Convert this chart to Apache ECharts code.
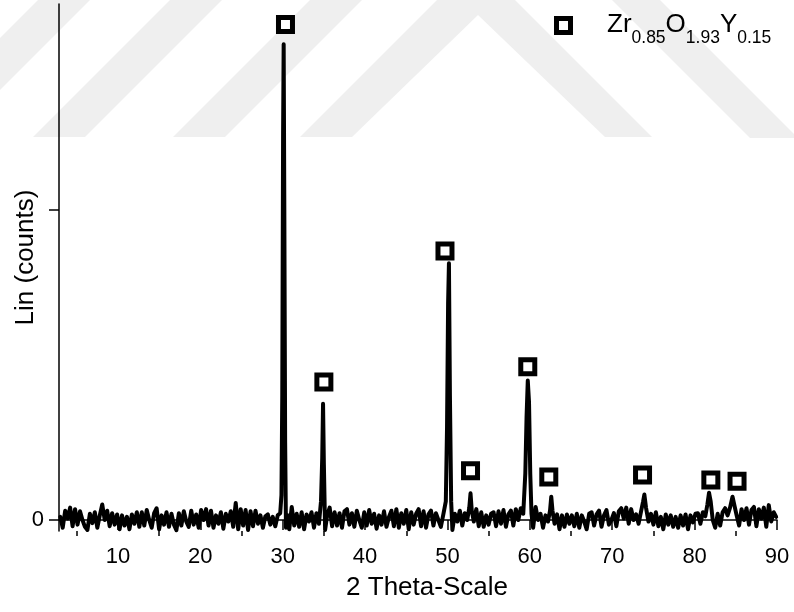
<!DOCTYPE html>
<html>
<head>
<meta charset="utf-8">
<script src="https://cdn.jsdelivr.net/npm/echarts@6.0.0/dist/echarts.min.js"></script>
<style>
html,body{margin:0;padding:0;background:#fff;}
#chart{width:794px;height:612px;}
</style>
</head>
<body>
<div id="chart"></div>
<script>
// 2θ positions of the scan
const twoTheta = [
3.0,3.3,3.6,3.9,4.2,4.5,4.8,5.1,5.4,5.7,
6.0,6.3,6.6,6.9,7.2,7.5,7.8,8.1,8.4,8.7,
9.0,9.3,9.6,9.9,10.2,10.5,10.8,11.1,11.4,11.7,
12.0,12.3,12.6,12.9,13.2,13.5,13.8,14.1,14.4,14.7,
15.0,15.3,15.6,15.9,16.2,16.5,16.8,17.1,17.4,17.7,
18.0,18.3,18.6,18.9,19.2,19.5,19.8,20.1,20.4,20.7,
21.0,21.3,21.6,21.9,22.2,22.5,22.8,23.1,23.4,23.7,
24.0,24.3,24.6,24.9,25.2,25.5,25.8,26.1,26.4,26.7,
27.0,27.3,27.6,27.9,28.2,28.5,28.8,29.1,29.4,29.7,
29.85,29.95,30.05,30.12,30.2,30.3,30.4,30.6,30.8,31.1,
31.4,31.7,32.0,32.3,32.6,32.9,33.2,33.5,33.8,34.1,
34.4,34.65,34.8,34.9,35.0,35.15,35.4,35.7,36.0,36.3,
36.6,36.9,37.2,37.5,37.8,38.1,38.4,38.7,39.0,39.3,
39.6,39.9,40.2,40.5,40.8,41.1,41.4,41.7,42.0,42.3,
42.6,42.9,43.2,43.5,43.8,44.1,44.4,44.7,45.0,45.3,
45.6,45.9,46.2,46.5,46.8,47.1,47.4,47.7,48.0,48.3,
48.6,48.9,49.2,49.5,49.8,49.95,50.08,50.18,50.3,50.45,
50.6,50.9,51.2,51.5,51.8,52.1,52.4,52.65,52.8,52.95,
53.2,53.5,53.8,54.1,54.4,54.7,55.0,55.3,55.6,55.9,
56.2,56.5,56.8,57.1,57.4,57.7,58.0,58.3,58.6,58.9,
59.2,59.45,59.6,59.75,59.9,60.05,60.2,60.4,60.7,61.0,
61.3,61.6,61.9,62.2,62.45,62.6,62.75,63.0,63.3,63.6,
63.9,64.2,64.5,64.8,65.1,65.4,65.7,66.0,66.3,66.6,
66.9,67.2,67.5,67.8,68.1,68.4,68.7,69.0,69.3,69.6,
69.9,70.2,70.5,70.8,71.1,71.4,71.7,72.0,72.3,72.6,
72.9,73.2,73.5,73.75,73.9,74.1,74.4,74.7,75.0,75.3,
75.6,75.9,76.2,76.5,76.8,77.1,77.4,77.7,78.0,78.3,
78.6,78.9,79.2,79.5,79.8,80.1,80.4,80.7,81.0,81.3,
81.55,81.75,81.95,82.2,82.5,82.8,83.1,83.4,83.7,84.0,
84.3,84.6,84.8,85.1,85.4,85.7,86.0,86.3,86.6,86.9,
87.2,87.5,87.8,88.1,88.4,88.7,89.0,89.3,89.6,89.9
];
// intensity (counts)
const counts = [
10,-25,30,5,40,-20,35,-15,28,0,
-22,-32,20,-10,25,-25,15,50,0,30,
-20,22,-15,18,-30,15,-18,10,-30,18,
-12,25,-22,25,-18,32,0,-25,22,38,
-30,15,-15,25,-22,20,-15,-33,22,-18,
28,-5,-22,30,-15,18,-25,32,0,35,
-18,30,-25,15,-12,25,-28,20,-5,28,
-22,55,-30,35,-18,32,-32,28,-20,30,
-12,15,-25,12,18,-15,10,-20,15,22,
80,400,1250,1535,1000,250,-25,15,-30,42,
-18,20,-22,25,-30,18,-5,25,-25,22,
-12,60,200,375,180,-32,15,40,-20,25,
-18,22,-25,28,35,-15,22,-22,30,0,
-25,25,-18,32,-12,20,-28,15,-15,28,
-22,10,30,-20,35,-25,22,-12,32,-30,
25,-15,20,35,-20,28,-25,18,30,-18,
22,0,-22,18,60,300,700,828,400,60,
-32,20,-5,30,-18,22,0,40,86,30,
-5,35,-20,25,-22,15,-15,20,25,-20,
28,-12,32,-22,18,30,-18,35,0,38,
20,150,330,450,380,150,20,-25,42,0,
20,-25,15,-5,30,75,30,-12,18,-30,
15,-22,18,-12,15,-20,20,-25,15,-5,
-30,20,25,-18,18,30,-22,15,32,-15,
0,22,-20,28,38,5,40,-12,35,0,
18,-12,28,60,82,40,-5,20,-15,25,
-20,10,-30,18,-15,15,-22,10,-25,15,
-18,18,-30,15,-8,20,22,-12,25,12,
50,88,60,0,-25,20,-18,25,38,15,
40,75,70,15,-18,35,0,38,-15,32,
42,-20,35,5,40,-22,48,-5,25,10
];
// phase markers (2θ, height in counts)
const markTheta = [30.34, 35.0, 49.7, 52.8, 59.75, 62.3, 73.68, 81.97, 85.15];
const markCounts = [1598, 445, 868, 159, 494, 139, 145, 129, 125];
const phaseName = 'Zr0.85O1.93Y0.15';
// axis ticks
const xTicks = [10, 20, 30, 40, 50, 60, 70, 80, 90];
const xMinorTicks = [5, 15, 25, 35, 45, 55, 65, 75, 85];
const yTicks = [0, 1000];
const yLabels = [0];

const FONT = '"Liberation Sans", Arial, sans-serif';
const wm = '#efefef';
const chart = echarts.init(document.getElementById('chart'), null, {renderer: 'canvas'});
const option = {
  animation: false,
  backgroundColor: '#fff',
  textStyle: {fontFamily: FONT, color: '#000'},
  graphic: {
    elements: [
      {type: 'polygon', z: -10, silent: true, shape: {points: [[38,0],[90,0],[-47,137],[-99,137]]}, style: {fill: wm}},
      {type: 'polygon', z: -10, silent: true, shape: {points: [[170,0],[222,0],[85,137],[33,137]]}, style: {fill: wm}},
      {type: 'polygon', z: -10, silent: true, shape: {points: [[310,0],[362,0],[225,137],[173,137]]}, style: {fill: wm}},
      {type: 'polygon', z: -10, silent: true, shape: {points: [[300,137],[437,0],[515,0],[652,137],[605,137],[478,15],[352,137]]}, style: {fill: wm}},
      {type: 'polygon', z: -10, silent: true, shape: {points: [[612,0],[660,0],[798,138],[750,138]]}, style: {fill: wm}}
    ]
  },
  grid: {left: 59, right: 17, top: 4, bottom: 81, containLabel: false, outerBoundsMode: 'none'},
  legend: {
    left: 554, top: 10.5, padding: 0,
    itemWidth: 19, itemHeight: 19,
    data: [{name: phaseName, icon: 'path://M0,0H19V19H0Z M5,5V14H14V5Z'}],
    itemStyle: {color: '#000', borderWidth: 0},
    formatter: function () { return '{a|Zr}{s|0.85}{n|O}{s|1.93}{n|Y}{s|0.15}'; },
    textStyle: {
      fontFamily: FONT, color: '#000',
      rich: {
        a: {fontFamily: FONT, fontSize: 26, lineHeight: 30, verticalAlign: 'top', padding: [1.5, 0, 0, 29]},
        n: {fontFamily: FONT, fontSize: 26, lineHeight: 30, verticalAlign: 'top', padding: [1.5, 0, 0, 0]},
        s: {fontFamily: FONT, fontSize: 17.5, lineHeight: 20, verticalAlign: 'top', padding: [19, 0, 0, 0]}
      }
    }
  },
  xAxis: [{
    type: 'value', min: 2.85, max: 90,
    name: '2 Theta-Scale', nameLocation: 'middle', nameGap: 44, nameMoveOverlap: false,
    nameTextStyle: {fontSize: 26, color: '#000', fontFamily: FONT, padding: [0, 0, 0, 18]},
    axisLine: {show: true, lineStyle: {color: '#000', width: 1.5}},
    axisTick: {show: true, length: 10, customValues: xTicks, lineStyle: {color: '#000', width: 1.5}},
    axisLabel: {show: true, fontSize: 22, color: '#000', margin: 15, fontFamily: FONT, customValues: xTicks},
    splitLine: {show: false}
  }, {
    type: 'value', min: 2.85, max: 90, position: 'bottom', offset: 0,
    axisLine: {show: false},
    axisTick: {show: true, length: 5, customValues: xMinorTicks, lineStyle: {color: '#000', width: 1.5}},
    axisLabel: {show: false},
    splitLine: {show: false}
  }],
  yAxis: {
    type: 'value', min: -35.5, max: 1664.5,
    name: 'Lin (counts)', nameLocation: 'middle', nameGap: 20, nameRotate: 90, nameMoveOverlap: false,
    nameTextStyle: {fontSize: 26, color: '#000', fontFamily: FONT, padding: [0, 0, 0, 20]},
    axisLine: {show: true, lineStyle: {color: '#000', width: 1.5}},
    axisTick: {show: true, length: 10, customValues: yTicks, lineStyle: {color: '#000', width: 1.5}},
    axisLabel: {show: true, fontSize: 22, color: '#000', margin: 15, fontFamily: FONT, customValues: yLabels},
    splitLine: {show: false}
  },
  series: [{
    type: 'line', name: 'scan', xAxisIndex: 0,
    data: twoTheta.map(function (t, i) { return [t, counts[i]]; }),
    showSymbol: false, symbol: 'none',
    lineStyle: {color: '#000', width: 4, join: 'round', cap: 'round'},
    z: 3
  }, {
    type: 'scatter', name: phaseName, xAxisIndex: 0,
    data: markTheta.map(function (t, i) { return [t, markCounts[i]]; }),
    symbol: 'rect', symbolSize: 14,
    itemStyle: {color: '#fff', borderColor: '#000', borderWidth: 5, opacity: 1},
    z: 5
  }]
};
chart.setOption(option);
</script>
</body>
</html>
